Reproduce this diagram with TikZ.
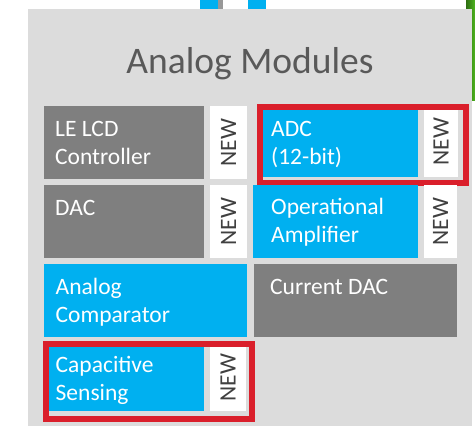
\documentclass[tikz,border=0pt]{standalone}
\usepackage{fontspec}
\setmainfont{Carlito}
\begin{document}
\begin{tikzpicture}[x=1pt,y=-1pt,
  panelfill/.style={fill=panelgray,draw=none},
  modgray/.style={rectangle,fill=modgray,draw=none,inner sep=0pt,anchor=north west},
  modblue/.style={rectangle,fill=modblue,draw=none,inner sep=0pt,anchor=north west},
  newtag/.style={rectangle,fill=white,draw=none,inner sep=0pt,rotate=90,
    font=\fontsize{23.5}{28}\selectfont,text=newtext},
  modtext/.style={anchor=base west,inner sep=0pt,text=white,
    font=\fontsize{23.5}{28}\selectfont},
  redframe/.style={draw=framered,line width=6pt,fill=none}]
\definecolor{panelgray}{HTML}{DCDCDC}
\definecolor{modgray}{HTML}{7F7F7F}
\definecolor{modblue}{HTML}{00B0F0}
\definecolor{framered}{HTML}{DA1F2B}
\definecolor{newtext}{HTML}{404040}
\definecolor{titletext}{HTML}{595959}
\definecolor{leafgreen}{HTML}{4DB51E}
\useasboundingbox (0,0) rectangle (475,426);

% neighbouring items peeking out above and to the right of the panel
\fill[modblue] (200,0) rectangle (218,9);
\fill[modgray!80!white] (218,0) rectangle (223,9);
\fill[modblue] (248,0) rectangle (266,9);
\shade[left color=leafgreen!60!black,right color=leafgreen] (466,0) rectangle (475,100);

% panel
\fill[panelfill] (28,9) rectangle (472,426);
\node[anchor=base,inner sep=0pt,text=titletext,font=\fontsize{37.5}{45}\selectfont]
  (title) at (250,73) {Analog Modules};

% row 1
\node[modgray,minimum width=160,minimum height=73] (lcd) at (44,106) {};
\node[newtag,minimum width=73,minimum height=37] (lcdnew) at (228.5,142.5) {NEW};
\node[modtext] (lcdtxt) at (55,136) {\parbox[t]{150pt}{LE LCD\\Controller}};

\node[modblue,minimum width=158,minimum height=71] (adc) at (260,106) {};
\node[newtag,minimum width=71,minimum height=34] (adcnew) at (441,141.5) {NEW};
\node[modtext] (adctxt) at (271,136) {\parbox[t]{150pt}{ADC\\(12-bit)}};
\node[redframe,rectangle,inner sep=0pt,minimum width=206,minimum height=76,anchor=north west]
  (adcframe) at (257,104) {};

% row 2
\node[modgray,minimum width=160,minimum height=73] (dac) at (44,185) {};
\node[newtag,minimum width=73,minimum height=37] (dacnew) at (228.5,221.5) {NEW};
\node[modtext] (dactxt) at (55,215) {\parbox[t]{150pt}{DAC}};

\node[modblue,minimum width=165,minimum height=73] (opamp) at (253,185) {};
\node[newtag,minimum width=73,minimum height=33] (opampnew) at (440.5,221.5) {NEW};
\node[modtext] (opamptxt) at (271,214) {\parbox[t]{150pt}{Operational\\Amplifier}};

% row 3
\node[modblue,minimum width=203,minimum height=73] (comp) at (44,264) {};
\node[modtext] (comptxt) at (55.5,294) {\parbox[t]{180pt}{Analog\\Comparator}};

\node[modgray,minimum width=203,minimum height=73] (idac) at (254,264) {};
\node[modtext] (idactxt) at (270,294) {\parbox[t]{180pt}{Current DAC}};

% row 4
\node[modblue,minimum width=158,minimum height=67] (cap) at (46,344) {};
\node[newtag,minimum width=67,minimum height=36] (capnew) at (228,377.5) {NEW};
\node[modtext] (captxt) at (55.5,372) {\parbox[t]{150pt}{Capacitive\\Sensing}};
\node[redframe,rectangle,inner sep=0pt,minimum width=206,minimum height=75,anchor=north west]
  (capframe) at (43,341) {};
\end{tikzpicture}
\end{document}
